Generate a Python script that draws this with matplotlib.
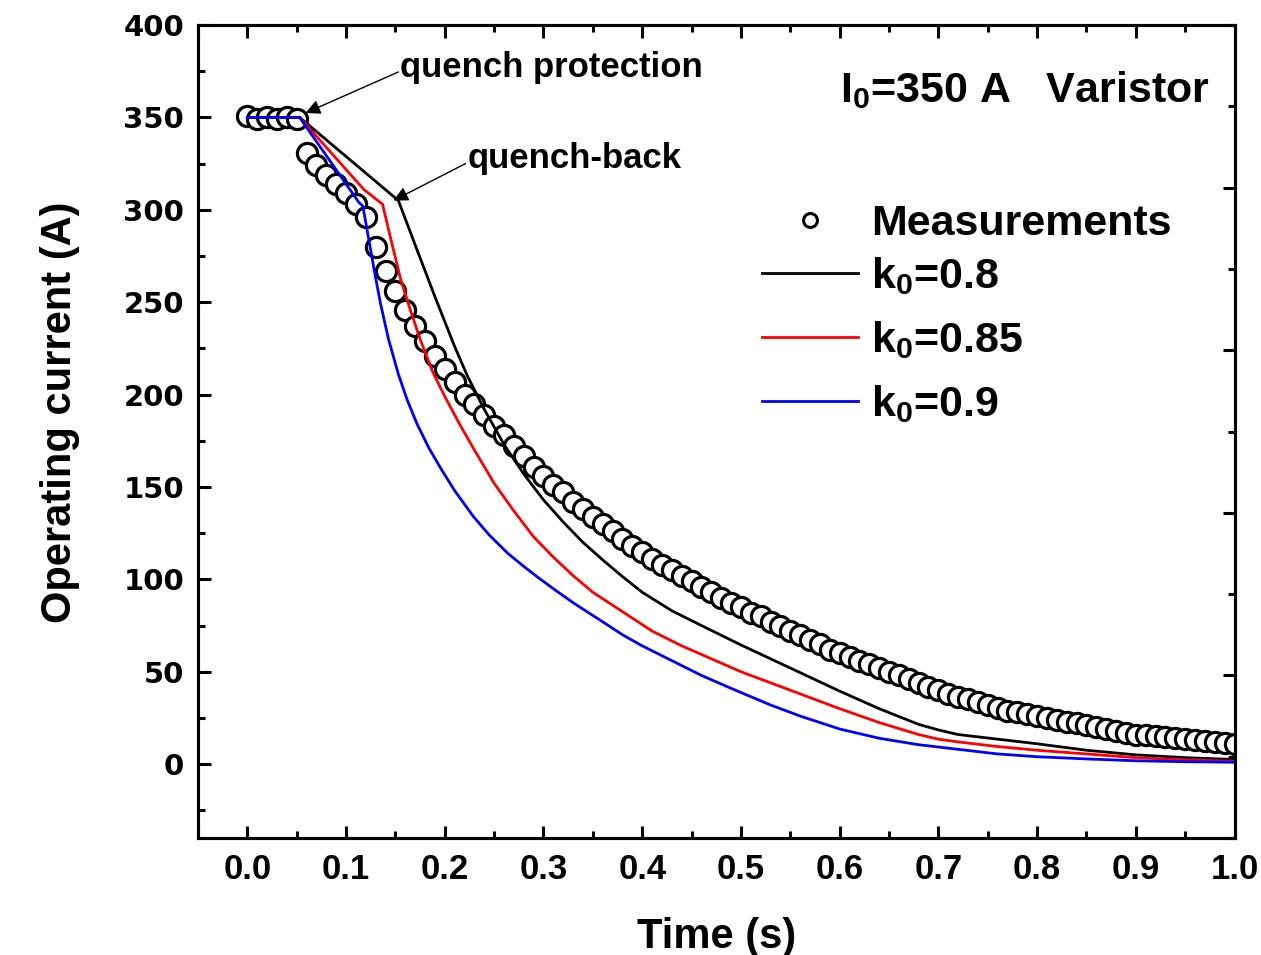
import matplotlib
matplotlib.use('Agg')
import matplotlib.pyplot as plt
from matplotlib.lines import Line2D
from matplotlib.ticker import MultipleLocator

plt.rcParams.update({
    'font.family': ['Liberation Sans', 'DejaVu Sans'],
    'font.weight': 'bold',
    'mathtext.fontset': 'custom',
    'mathtext.rm': 'Liberation Sans:bold',
    'mathtext.bf': 'Liberation Sans:bold',
    'mathtext.it': 'Liberation Sans:bold:italic',
    'mathtext.default': 'bf',
    'axes.linewidth': 2.2,
})

# --- measured current (every 10 ms) ---
t_meas = [0.00, 0.01, 0.02, 0.03, 0.04, 0.05, 0.06, 0.07, 0.08, 0.09,
          0.10, 0.11, 0.12, 0.13, 0.14, 0.15, 0.16, 0.17, 0.18, 0.19,
          0.20, 0.21, 0.22, 0.23, 0.24, 0.25, 0.26, 0.27, 0.28, 0.29,
          0.30, 0.31, 0.32, 0.33, 0.34, 0.35, 0.36, 0.37, 0.38, 0.39,
          0.40, 0.41, 0.42, 0.43, 0.44, 0.45, 0.46, 0.47, 0.48, 0.49,
          0.50, 0.51, 0.52, 0.53, 0.54, 0.55, 0.56, 0.57, 0.58, 0.59,
          0.60, 0.61, 0.62, 0.63, 0.64, 0.65, 0.66, 0.67, 0.68, 0.69,
          0.70, 0.71, 0.72, 0.73, 0.74, 0.75, 0.76, 0.77, 0.78, 0.79,
          0.80, 0.81, 0.82, 0.83, 0.84, 0.85, 0.86, 0.87, 0.88, 0.89,
          0.90, 0.91, 0.92, 0.93, 0.94, 0.95, 0.96, 0.97, 0.98, 0.99,
          1.00]
i_meas = [351, 349, 350, 349, 350, 349, 331, 324, 319, 314,
          309, 303, 296, 280, 267, 256, 246, 237, 229, 221,
          214, 207, 200, 195, 189, 183, 178, 172, 167, 161,
          156, 151, 147, 142, 138, 134, 130, 126, 122, 118,
          115, 111, 108, 105, 102, 99, 96, 93, 90, 87,
          85, 82, 80, 77, 75, 72, 70, 67, 65, 62,
          60, 58, 56, 54, 52, 50, 48, 46, 44, 42,
          40, 38, 36.5, 35, 33.5, 32, 30.5, 29, 28, 27,
          26, 25, 24, 23, 22, 21, 20, 19, 18, 17,
          16, 15.5, 15, 14.5, 14, 13.5, 13, 12.5, 12, 11.5,
          11]

# --- simulations ---
t_k08 = [0, 0.053, 0.153, 0.17, 0.19, 0.21, 0.223, 0.24, 0.26, 0.28, 0.30,
         0.32, 0.34, 0.36, 0.38, 0.40, 0.43, 0.46, 0.50, 0.53, 0.56, 0.60,
         0.64, 0.68, 0.70, 0.72, 0.76, 0.80, 0.85, 0.90, 0.95, 1.0]
i_k08 = [350, 350, 305, 281, 253, 226, 210, 192, 173, 157, 143,
         131, 120, 110.5, 101.5, 93, 83, 75, 64.5, 57, 49.5, 39.5,
         30, 21.5, 18.5, 16, 13.5, 11, 7.5, 5, 3.5, 2.5]

t_k085 = [0, 0.053, 0.118, 0.137, 0.145, 0.155, 0.165, 0.175, 0.188, 0.20,
          0.215, 0.23, 0.25, 0.27, 0.29, 0.31, 0.33, 0.35, 0.37, 0.39,
          0.41, 0.44, 0.47, 0.50, 0.53, 0.56, 0.60, 0.64, 0.68, 0.70,
          0.72, 0.76, 0.80, 0.85, 0.90, 0.95, 1.0]
i_k085 = [350, 350, 311, 303, 285, 263, 246, 230, 212, 199,
          184, 170, 152, 137, 123, 112, 102, 93, 86, 79,
          72, 64, 57, 50, 44, 38, 30, 22.5, 16, 13.5,
          12, 9.5, 7.5, 5.5, 3.5, 2.3, 1.5]

t_k09 = [0, 0.053, 0.113, 0.117, 0.121, 0.125, 0.13, 0.135, 0.143, 0.153,
         0.162, 0.172, 0.184, 0.196, 0.21, 0.229, 0.245, 0.264, 0.28, 0.297,
         0.315, 0.331, 0.36, 0.38, 0.40, 0.43, 0.46, 0.49, 0.53, 0.56,
         0.60, 0.64, 0.68, 0.72, 0.76, 0.80, 0.85, 0.90, 0.95, 1.0]
i_k09 = [350, 350, 304, 302, 290, 278, 263, 249, 230, 211,
         197, 184, 171, 160, 148, 134, 124, 114, 107, 100,
         93, 87, 77, 70, 64, 56, 48, 41, 32, 26,
         19, 14, 10.5, 8, 5.5, 4, 2.8, 1.8, 1.3, 1]

fig = plt.figure(figsize=(12.61, 9.55), dpi=100)
ax = fig.add_axes([0.157, 0.1225, 0.822, 0.8513])

ax.plot(t_meas, i_meas, 'o', ms=14.5, mfc='white', mec='black', mew=2.3,
        zorder=2)
ax.plot(t_k08, i_k08, color='black', lw=2.0, zorder=3)
ax.plot(t_k085, i_k085, color='red', lw=2.0, zorder=3)
ax.plot(t_k09, i_k09, color='blue', lw=2.0, zorder=3)

ax.set_xlim(-0.05, 1.0)
ax.set_ylim(-40, 400)
ax.xaxis.set_major_locator(MultipleLocator(0.1))
ax.xaxis.set_minor_locator(MultipleLocator(0.05))
ax.yaxis.set_major_locator(MultipleLocator(50))
ax.yaxis.set_minor_locator(MultipleLocator(25))
ax.set_yticks([0, 50, 100, 150, 200, 250, 300, 350, 400])
ax.set_xticks([0.0, 0.1, 0.2, 0.3, 0.4, 0.5, 0.6, 0.7, 0.8, 0.9, 1.0])

ax.tick_params(which='both', direction='in', top=True, right=False, width=2.2)
ax.tick_params(which='major', length=9)
ax.tick_params(which='minor', length=4.8)
ax.tick_params(axis='x', labelsize=25, pad=11)
ax.tick_params(axis='y', pad=10)
for lab in ax.get_yticklabels():
    lab.set_family('DejaVu Sans')
    lab.set_fontweight('bold')
    lab.set_fontsize(21)

# right-hand axis of the original layer (own scale, no labels)
ax2 = ax.twinx()
ax2.set_ylim(0, 5)
ax2.yaxis.set_major_locator(MultipleLocator(1))
ax2.yaxis.set_minor_locator(MultipleLocator(0.5))
ax2.tick_params(which='both', direction='in', width=2.2, labelright=False)
ax2.tick_params(which='major', length=9)
ax2.tick_params(which='minor', length=4.8)

ax.set_xlabel('Time (s)', fontsize=30, fontweight='bold', labelpad=22)
ax.set_ylabel('Operating current (A)', fontsize=30, fontweight='bold')
ax.yaxis.set_label_coords(-0.114, 0.524)

# annotations
ax.annotate('', xy=(0.059, 352.4), xytext=(0.153, 374.6),
            arrowprops=dict(arrowstyle='-|>', color='black', lw=1.0,
                            mutation_scale=22, shrinkA=0, shrinkB=0))
ax.text(0.155, 372, 'quench protection', fontsize=25, fontweight='bold',
        ha='left', va='baseline')
ax.annotate('', xy=(0.148, 305), xytext=(0.221, 325),
            arrowprops=dict(arrowstyle='-|>', color='black', lw=1.0,
                            mutation_scale=22, shrinkA=0, shrinkB=0))
ax.text(0.223, 322.7, 'quench-back', fontsize=25, fontweight='bold',
        ha='left', va='baseline')

ax.text(0.976, 0.905, 'I$_0$=350 A   Varistor', transform=ax.transAxes,
        fontsize=31, fontweight='bold', ha='right', va='baseline')

# legend: marker row and line rows kept separate (different row pitch)
leg_kw = dict(loc='upper left', frameon=False, handlelength=2.23,
              handletextpad=0.3, borderpad=0, borderaxespad=0,
              prop={'weight': 'bold', 'size': 31})
h_meas = Line2D([], [], ls='none', marker='o', ms=10, mfc='white',
                mec='black', mew=2.2)
leg1 = ax.legend([h_meas], ['Measurements'], bbox_to_anchor=(0.544, 0.780),
                 **leg_kw)
ax.add_artist(leg1)
h_lines = [Line2D([], [], color=c, lw=2.0) for c in ['black', 'red', 'blue']]
ax.legend(h_lines, ['k$_0$=0.8', 'k$_0$=0.85', 'k$_0$=0.9'],
          bbox_to_anchor=(0.544, 0.7172), labelspacing=0.52, **leg_kw)

fig.savefig('out.png', dpi=100)
